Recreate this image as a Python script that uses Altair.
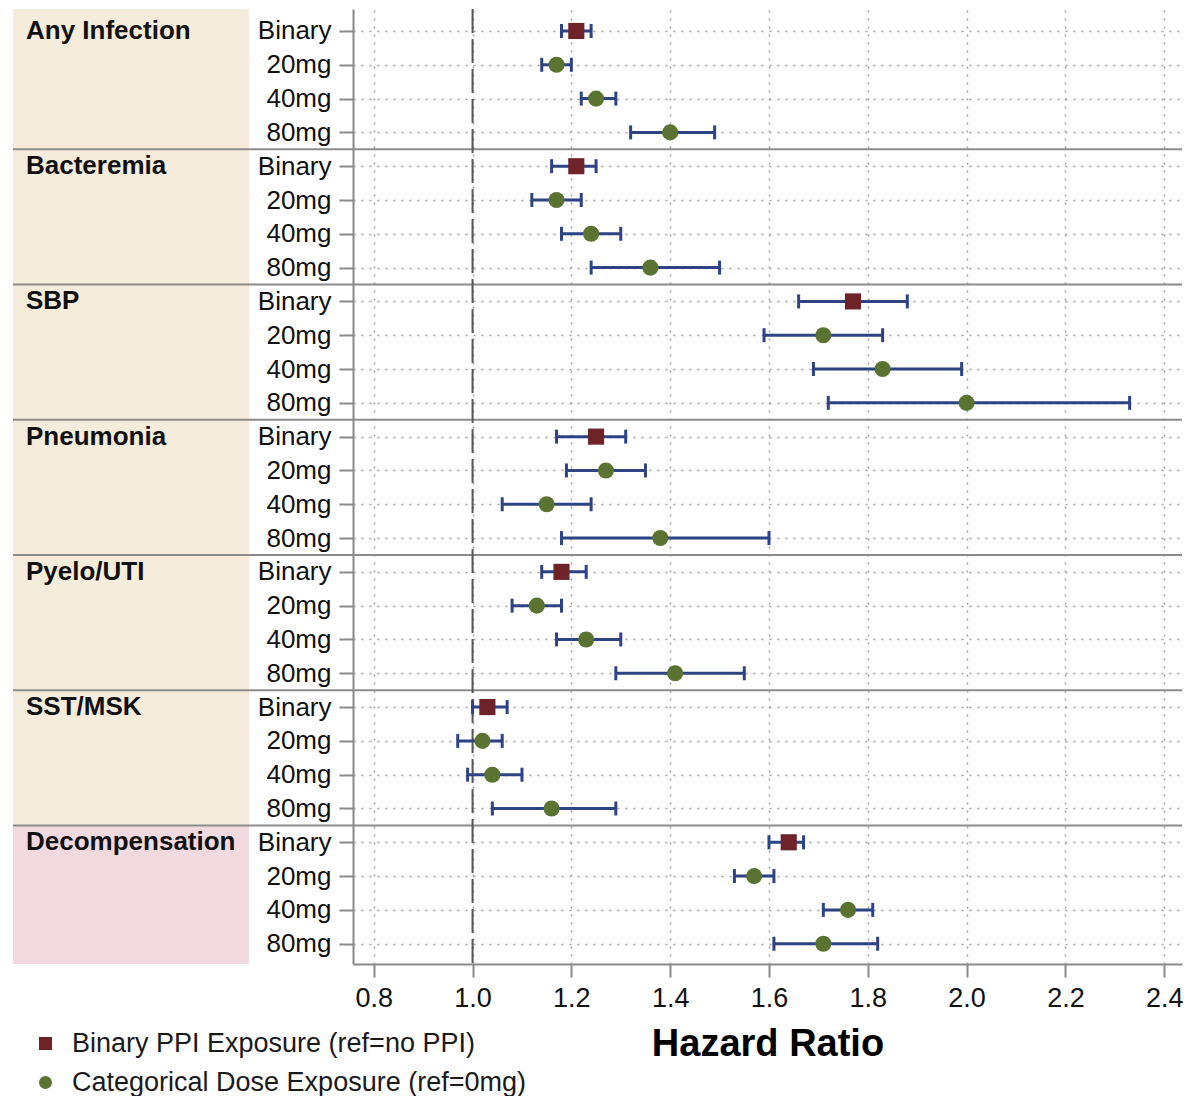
import altair as alt
import pandas as pd

# ---- data ----
groups = ["Any Infection", "Bacteremia", "SBP", "Pneumonia", "Pyelo/UTI", "SST/MSK", "Decompensation"]
doses = ["Binary", "20mg", "40mg", "80mg"]
series_names = ["Binary PPI Exposure (ref=no PPI)", "Categorical Dose Exposure (ref=0mg)"]

hr = [1.21, 1.17, 1.25, 1.40,
      1.21, 1.17, 1.24, 1.36,
      1.77, 1.71, 1.83, 2.00,
      1.25, 1.27, 1.15, 1.38,
      1.18, 1.13, 1.23, 1.41,
      1.03, 1.02, 1.04, 1.16,
      1.64, 1.57, 1.76, 1.71]
lo = [1.18, 1.14, 1.22, 1.32,
      1.16, 1.12, 1.18, 1.24,
      1.66, 1.59, 1.69, 1.72,
      1.17, 1.19, 1.06, 1.18,
      1.14, 1.08, 1.17, 1.29,
      1.00, 0.97, 0.99, 1.04,
      1.60, 1.53, 1.71, 1.61]
hi = [1.24, 1.20, 1.29, 1.49,
      1.25, 1.22, 1.30, 1.50,
      1.88, 1.83, 1.99, 2.33,
      1.31, 1.35, 1.24, 1.60,
      1.23, 1.18, 1.30, 1.55,
      1.07, 1.06, 1.10, 1.29,
      1.67, 1.61, 1.81, 1.82]
bg_colors = ["#f5ecdc"] * 6 + ["#f0dae0"]
x_ticks = [0.8, 1.0, 1.2, 1.4, 1.6, 1.8, 2.0, 2.2, 2.4]

# ---- tables ----
nd = len(doses)
rows = []
for gi, g in enumerate(groups):
    for di, d in enumerate(doses):
        k = gi * nd + di
        rows.append(dict(group=g, dose=d, pos=k + 1, hr=hr[k], lo=lo[k], hi=hi[k],
                         series=series_names[0] if di == 0 else series_names[1]))
df = pd.DataFrame(rows)

n = len(rows)
y_top, y_bot = 0.35, n + 0.6
ng = len(groups)
bands = pd.DataFrame({
    "group": groups,
    "y0": [y_top if i == 0 else i * nd + 0.5 for i in range(ng)],
    "y1": [y_bot if i == ng - 1 else (i + 1) * nd + 0.5 for i in range(ng)],
    "bg": bg_colors,
    "pos": [i * nd + 1 for i in range(ng)],
})
seps = pd.DataFrame({"sep": [(i + 1) * nd + 0.5 for i in range(ng - 1)]})
ref = pd.DataFrame({"hr": [1.0]})

W, H = 829, 955
FONT = "Liberation Sans"
SQ, CI, BAR = "#6e2328", "#5a7330", "#2d4384"
AXC = "#8a8a8a"

xs = alt.Scale(domain=[0.758, 2.436], nice=False, zero=False)
ys = alt.Scale(domain=[y_top, y_bot], nice=False, zero=False, reverse=True)

xaxis = alt.Axis(values=x_ticks, format=".1f", title="Hazard Ratio",
                 labelFontSize=27, labelColor="#111", labelPadding=8,
                 tickSize=13, tickWidth=2, tickColor=AXC,
                 domainColor=AXC, domainWidth=2,
                 grid=True, gridDash=[2, 6], gridColor="#a0a0a0", gridWidth=1.5,
                 titleFontSize=38, titleFontWeight="bold", titleColor="#000", titlePadding=14)
yaxis = alt.Axis(values=list(range(1, n + 1)), title="",
                 labelExpr=f"{doses!r}[(datum.value - 1) % {nd}]",
                 labelFontSize=26, labelColor="#111", labelPadding=8,
                 tickSize=14, tickWidth=2, tickColor=AXC,
                 domainColor=AXC, domainWidth=2,
                 grid=True, gridDash=[2, 6], gridColor="#a0a0a0", gridWidth=1.5)


def X(field):
    return alt.X(field, scale=xs, axis=xaxis)


def Y(field):
    return alt.Y(field, scale=ys, axis=yaxis)


bg = alt.Chart(bands).mark_rect().encode(
    x=alt.value(-340), x2=alt.value(-104),
    y=Y("y0:Q"), y2="y1:Q",
    fill=alt.Fill("bg:N", scale=None),
)

sep = alt.Chart(seps).mark_rule(color="#8c8c8c", strokeWidth=2).encode(
    x=alt.value(-340), x2=alt.value(W),
    y=Y("sep:Q"),
)

refline = alt.Chart(ref).mark_rule(color="#555555", strokeWidth=2, strokeDash=[24, 6]).encode(
    x=X("hr:Q"),
    y=alt.value(0), y2=alt.value(H),
)

bars = alt.Chart(df).mark_rule(color=BAR, strokeWidth=3).encode(
    x=X("lo:Q"), x2="hi:Q",
    y=Y("pos:Q"),
)
cap_lo = alt.Chart(df).mark_tick(color=BAR, orient="vertical", size=14, thickness=3, opacity=1).encode(
    x=X("lo:Q"),
    y=Y("pos:Q"),
)
cap_hi = alt.Chart(df).mark_tick(color=BAR, orient="vertical", size=14, thickness=3, opacity=1).encode(
    x=X("hi:Q"),
    y=Y("pos:Q"),
)

leg = alt.Legend(orient="none", legendX=-321, legendY=1021, labelFontSize=27,
                 labelColor="#1a1a1a", symbolSize=170, labelOffset=13, rowPadding=11,
                 symbolStrokeWidth=0, labelLimit=600)
points = alt.Chart(df).mark_point(filled=True, opacity=1, size=260).encode(
    x=X("hr:Q"),
    y=Y("pos:Q"),
    color=alt.Color("series:N", scale=alt.Scale(domain=series_names, range=[SQ, CI]),
                    legend=leg, title=None),
    shape=alt.Shape("series:N", scale=alt.Scale(domain=series_names, range=["square", "circle"]),
                    legend=leg, title=None),
)

glabels = alt.Chart(bands).mark_text(align="left", baseline="middle", fontSize=26,
                                     fontWeight="bold", color="#111").encode(
    x=alt.value(-327),
    y=Y("pos:Q"),
    text="group:N",
)

chart = alt.layer(bg, sep, refline, bars, cap_lo, cap_hi, points, glabels).properties(
    width=W, height=H,
    padding={"left": 4, "top": 0, "right": 0, "bottom": 0},
).configure(font=FONT).configure_view(stroke=None)

chart.save("out.html", embed_options={"renderer": "svg", "actions": False})
